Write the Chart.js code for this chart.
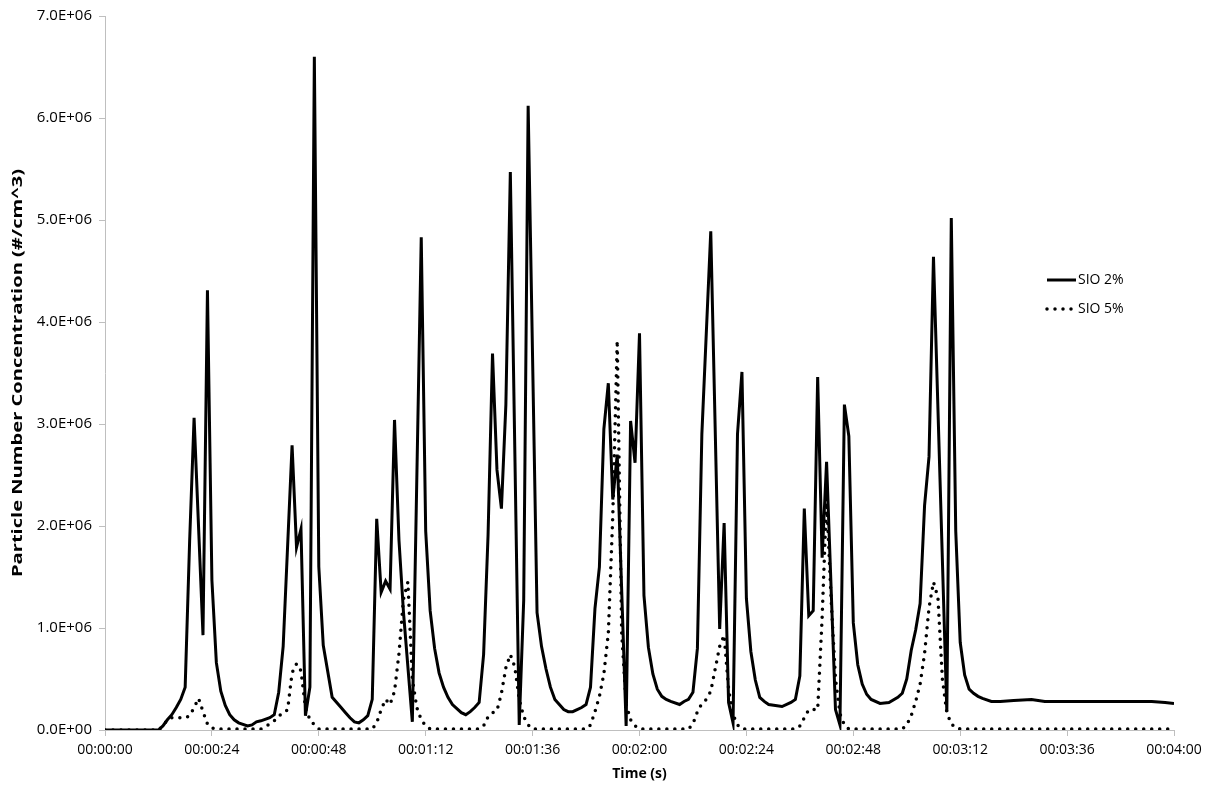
<!DOCTYPE html>
<html>
<head>
<meta charset="utf-8">
<script src="https://cdn.jsdelivr.net/npm/chart.js@4"></script>
<style>
  html, body { margin: 0; padding: 0; background: #fff; }
  #wrap { width: 1214px; height: 790px; }
</style>
</head>
<body>
<div id="wrap"><canvas id="chart1" width="1214" height="790"></canvas></div>
<script>
// tempo em segundos, concentração em milhões de partículas por cm^3
const sio2Time = [0, 12, 13, 14, 15, 16, 17, 18, 19, 20, 22, 23, 24, 25, 26, 27, 28, 29, 30, 32, 33, 34, 35, 37, 38, 39, 40, 42, 43, 44, 45, 46, 47, 48, 49, 51, 53, 54, 55, 56, 57, 58, 59, 60, 61, 62, 63, 64, 65, 66, 67, 69, 71, 72, 73, 74, 75, 76, 77, 78, 79, 80, 81, 82, 83, 84, 85, 86, 87, 88, 89, 90, 91, 93, 94, 95, 97, 98, 99, 100, 101, 102, 103, 104, 105, 106, 107, 108, 109, 110, 111, 112, 113, 114, 115, 117, 118, 119, 120, 121, 122, 123, 124, 125, 126, 127, 129, 130, 131, 132, 133, 134, 136, 138, 139, 140, 141, 142, 143, 144, 145, 146, 147, 148, 149, 152, 154, 155, 156, 157, 158, 159, 160, 161, 162, 164, 165, 166, 167, 168, 169, 170, 171, 172, 174, 176, 178, 179, 180, 181, 182, 183, 184, 185, 186, 189, 190, 191, 192, 193, 194, 195, 196, 197, 199, 201, 204, 208, 211, 220, 235, 238, 240];
const sio2Value = [0, 0, 0.04, 0.1, 0.15, 0.22, 0.3, 0.42, 1.85, 3.06, 0.93, 4.31, 1.47, 0.66, 0.38, 0.24, 0.15, 0.1, 0.07, 0.04, 0.05, 0.08, 0.09, 0.12, 0.15, 0.37, 0.82, 2.79, 1.79, 1.97, 0.14, 0.42, 6.6, 1.6, 0.83, 0.32, 0.22, 0.17, 0.12, 0.08, 0.07, 0.1, 0.14, 0.3, 2.07, 1.35, 1.46, 1.38, 3.04, 1.86, 1.16, 0.08, 4.83, 1.95, 1.17, 0.8, 0.56, 0.42, 0.32, 0.25, 0.21, 0.17, 0.15, 0.18, 0.22, 0.27, 0.74, 1.91, 3.69, 2.55, 2.17, 3.19, 5.47, 0.05, 1.27, 6.12, 1.15, 0.82, 0.6, 0.42, 0.3, 0.25, 0.2, 0.18, 0.18, 0.2, 0.22, 0.25, 0.42, 1.19, 1.6, 2.95, 3.4, 2.26, 2.7, 0.04, 3.03, 2.62, 3.89, 1.32, 0.81, 0.55, 0.4, 0.33, 0.3, 0.28, 0.25, 0.28, 0.3, 0.37, 0.8, 2.9, 4.89, 0.99, 2.03, 0.27, 0.07, 2.9, 3.51, 1.29, 0.77, 0.49, 0.32, 0.28, 0.25, 0.23, 0.27, 0.3, 0.53, 2.17, 1.12, 1.17, 3.46, 1.69, 2.63, 0.2, 0.05, 3.19, 2.88, 1.05, 0.64, 0.45, 0.35, 0.3, 0.26, 0.27, 0.32, 0.36, 0.5, 0.78, 0.98, 1.24, 2.2, 2.68, 4.64, 0.18, 5.02, 1.95, 0.86, 0.54, 0.4, 0.36, 0.33, 0.31, 0.28, 0.28, 0.29, 0.3, 0.28, 0.28, 0.28, 0.27, 0.26];

const sio5Time = [0, 12, 13, 14, 15, 16, 17, 18, 19, 20, 21, 22, 23, 24, 25, 35, 36, 37, 38, 39, 40, 41, 42, 43, 44, 45, 46, 47, 48, 60, 61, 62, 63, 64, 65, 66, 67, 68, 69, 70, 71, 72, 73, 84, 85, 86, 87, 88, 89, 90, 91, 92, 93, 94, 95, 96, 108, 109, 110, 111, 112, 113, 114, 115, 116, 117, 118, 119, 120, 131, 132, 133, 134, 135, 136, 137, 138, 139, 140, 141, 142, 143, 155, 156, 157, 158, 159, 160, 161, 162, 163, 164, 165, 166, 167, 179, 180, 181, 182, 183, 184, 185, 186, 187, 188, 189, 190, 191, 192, 240];
const sio5Value = [0, 0, 0.04, 0.1, 0.12, 0.12, 0.12, 0.12, 0.14, 0.22, 0.31, 0.18, 0.06, 0.02, 0.01, 0.01, 0.03, 0.06, 0.09, 0.14, 0.16, 0.2, 0.56, 0.65, 0.58, 0.22, 0.1, 0.05, 0.01, 0.01, 0.07, 0.2, 0.3, 0.25, 0.38, 0.75, 1.28, 1.45, 0.5, 0.22, 0.1, 0.04, 0.01, 0.01, 0.04, 0.13, 0.17, 0.19, 0.36, 0.61, 0.74, 0.62, 0.3, 0.13, 0.05, 0.01, 0.01, 0.05, 0.18, 0.33, 0.55, 0.95, 2.1, 3.82, 0.95, 0.25, 0.1, 0.04, 0.01, 0.01, 0.06, 0.18, 0.26, 0.3, 0.38, 0.6, 0.82, 0.93, 0.4, 0.15, 0.05, 0.01, 0.01, 0.04, 0.12, 0.2, 0.2, 0.2, 1.1, 2.27, 1.3, 0.5, 0.16, 0.05, 0.01, 0.01, 0.05, 0.14, 0.28, 0.45, 0.75, 1.2, 1.45, 1.3, 0.5, 0.17, 0.06, 0.02, 0.01, 0.01];

const timeTicks = ['00:00:00', '00:00:24', '00:00:48', '00:01:12', '00:01:36', '00:02:00', '00:02:24', '00:02:48', '00:03:12', '00:03:36', '00:04:00'];
const yTicks = ['0.0E+00', '1.0E+06', '2.0E+06', '3.0E+06', '4.0E+06', '5.0E+06', '6.0E+06', '7.0E+06'];
const yTitle = 'Particle Number Concentration (#/cm^3)';

const FONT = "'Open Sans', 'DejaVu Sans', sans-serif";

function toPoints(times, values) {
    return times.map((t, i) => ({ x: t, y: values[i] * 1e6 }));
}

// legenda desenhada à direita, dentro da área do gráfico
const sideLegend = {
    id: 'sideLegend',
    afterDatasetsDraw(chart) {
        const ctx = chart.ctx;
        const rows = [280, 309];
        chart.data.datasets.forEach((ds, i) => {
            const y = rows[i];
            ctx.save();
            ctx.strokeStyle = ds.borderColor;
            ctx.lineWidth = ds.borderWidth;
            ctx.lineCap = ds.borderCapStyle || 'butt';
            ctx.setLineDash(ds.borderDash || []);
            ctx.beginPath();
            ctx.moveTo(1047, y);
            ctx.lineTo(1076, y);
            ctx.stroke();
            ctx.setLineDash([]);
            ctx.fillStyle = '#000';
            ctx.font = '14px ' + FONT;
            ctx.textBaseline = 'middle';
            ctx.fillText(ds.label, 1078, y);
            ctx.restore();
        });
    }
};

// título do eixo Y, esticado no comprimento como no original
const stretchedYTitle = {
    id: 'stretchedYTitle',
    afterDraw(chart) {
        const ctx = chart.ctx;
        const area = chart.chartArea;
        ctx.save();
        ctx.font = 'bold 14px ' + FONT;
        const w = ctx.measureText(yTitle).width;
        const target = 408;
        ctx.translate(18, (area.top + area.bottom) / 2);
        ctx.rotate(-Math.PI / 2);
        ctx.scale(target / w, 1);
        ctx.fillStyle = '#000';
        ctx.textAlign = 'center';
        ctx.textBaseline = 'middle';
        ctx.fillText(yTitle, 0, 0);
        ctx.restore();
    }
};

const ctx = document.getElementById('chart1').getContext('2d');
new Chart(ctx, {
    type: 'line',
    data: {
        datasets: [{
            label: 'SIO 2%',
            data: toPoints(sio2Time, sio2Value),
            borderColor: '#000',
            borderWidth: 3,
            pointRadius: 0,
            tension: 0,
            borderJoinStyle: 'miter'
        }, {
            label: 'SIO 5%',
            data: toPoints(sio5Time, sio5Value),
            borderColor: '#000',
            borderWidth: 3.5,
            borderDash: [0, 8],
            borderCapStyle: 'round',
            pointRadius: 0,
            tension: 0
        }]
    },
    options: {
        responsive: false,
        animation: false,
        layout: { padding: { left: 0, right: 40, top: 15, bottom: 0 } },
        plugins: {
            legend: { display: false },
            tooltip: { enabled: false }
        },
        scales: {
            x: {
                type: 'linear',
                min: 0,
                max: 240,
                afterFit: (scale) => { scale.height = 60; },
                ticks: {
                    stepSize: 24,
                    color: '#000',
                    font: { family: FONT, size: 14 },
                    padding: 6,
                    maxRotation: 0,
                    callback: (value, index) => timeTicks[index]
                },
                grid: {
                    drawOnChartArea: false,
                    drawTicks: true,
                    tickLength: 6,
                    color: '#bfbfbf'
                },
                border: { color: '#bfbfbf', width: 1 },
                title: {
                    display: true,
                    text: 'Time (s)',
                    color: '#000',
                    font: { family: FONT, size: 14, weight: 'bold' },
                    padding: { top: 0, bottom: 8 }
                }
            },
            y: {
                min: 0,
                max: 7e6,
                afterFit: (scale) => { scale.width = 105; },
                ticks: {
                    stepSize: 1e6,
                    color: '#000',
                    font: { family: FONT, size: 15 },
                    padding: 7,
                    callback: (value, index) => yTicks[index]
                },
                grid: {
                    drawOnChartArea: false,
                    drawTicks: true,
                    tickLength: 6,
                    color: '#bfbfbf'
                },
                border: { color: '#bfbfbf', width: 1 },
                title: { display: false }
            }
        }
    },
    plugins: [sideLegend, stretchedYTitle]
});
</script>
</body>
</html>
